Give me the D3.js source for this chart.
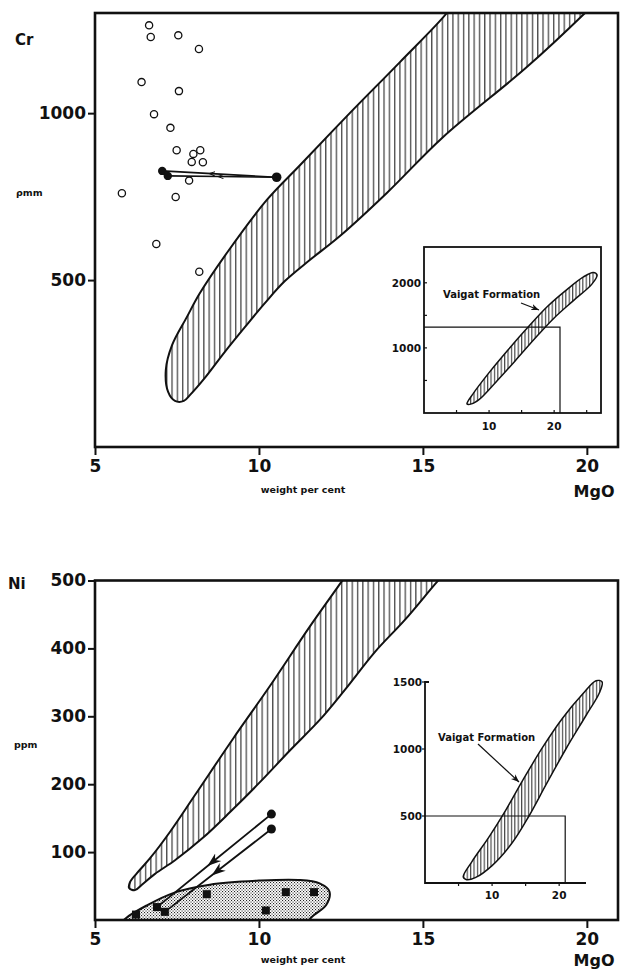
<!DOCTYPE html>
<html>
<head>
<meta charset="utf-8">
<script src="https://cdn.jsdelivr.net/npm/d3@7"></script>
<style>
body { margin: 0; background: #fff; }
svg { display: block; }
text { font-family: "DejaVu Sans", sans-serif; font-weight: bold; fill: #111; }
</style>
</head>
<body>
<script>
// MgO (weight per cent) against Cr and Ni (ppm)
const mgoTicks = [5, 10, 15, 20]
const crTicks = [500, 1000]
const niTicks = [100, 200, 300, 400, 500]

// Cr panel: open circles
const crOpen = [
  [6.65, 1263], [6.70, 1228], [7.54, 1233], [8.17, 1192], [6.42, 1093],
  [7.56, 1066], [6.80, 997], [7.30, 956], [7.49, 889], [8.00, 878],
  [8.21, 889], [7.95, 854], [8.29, 853], [7.87, 798], [5.82, 760],
  [7.46, 749], [6.87, 608], [8.18, 525]
]
// Cr panel: filled points and the two trends
const crFilled = [[7.05, 827], [7.22, 812], [10.54, 808]]
const crTrends = [
  [[10.54, 808], [7.05, 827], 0.57],
  [[10.54, 808], [7.22, 812], 0.52]
]
// Cr panel: hatched field, upper edge down to the tip then lower edge back up
const crField = [
  [15.98, 1339], [15.73, 1300], [14.30, 1153], [12.77, 1000], [11.25, 844],
  [10.24, 740], [9.02, 581], [8.20, 461], [7.80, 389], [7.35, 305], [7.16, 231],
  [7.23, 165], [7.44, 138], [7.71, 138], [7.90, 156], [8.35, 207], [8.96, 285],
  [9.57, 359], [10.18, 431], [10.79, 497], [11.55, 560], [12.47, 632],
  [13.90, 761], [15.61, 928], [18.17, 1138], [19.88, 1294], [20.27, 1333]
]
// Cr inset
const crInsetXTicks = [10, 20]
const crInsetYTicks = [1000, 2000]
const crInsetField = [
  [6.6, 140], [7.5, 290], [10.0, 620], [13.0, 980], [16.0, 1320], [19.0, 1640],
  [22.0, 1900], [24.5, 2090], [26.0, 2160], [26.6, 2120], [25.8, 1980],
  [23.0, 1730], [20.0, 1460], [17.0, 1140], [14.0, 800], [11.0, 470], [8.5, 210], [7.3, 140]
]
const crInsetBox = [20.9, 1320]

// Ni panel
const niFilled = [[10.38, 156], [10.38, 134]]
const niTrends = [
  [[10.38, 156], [6.89, 19], 0.55],
  [[10.38, 134], [7.13, 12], 0.55]
]
const niSquares = [
  [6.25, 8], [6.89, 19], [7.13, 12], [8.41, 38], [10.21, 14], [10.82, 41], [11.68, 41]
]
const niField = [
  [12.74, 514], [12.53, 499], [11.55, 432], [10.34, 345], [9.21, 267], [8.05, 184],
  [7.29, 130], [6.68, 91], [6.28, 69], [6.07, 56], [6.04, 47], [6.22, 44],
  [6.43, 52], [6.83, 68], [7.44, 88], [8.29, 121], [9.12, 159], [10.03, 203],
  [10.95, 250], [11.86, 295], [12.62, 339], [13.54, 395], [14.45, 442],
  [15.43, 498], [15.70, 512]
]
const niStipple = [
  [11.3, -15], [11.6, 4], [12.05, 22], [12.15, 42], [11.85, 54], [11.2, 59],
  [10.0, 58], [8.5, 52], [7.4, 40], [6.6, 22], [5.95, 3], [5.6, -15]
]
// Ni inset
const niInsetXTicks = [10, 20]
const niInsetYTicks = [500, 1000, 1500]
const niInsetField = [
  [5.7, 45], [7.0, 160], [9.5, 340], [12.0, 540], [14.5, 760], [17.5, 1010],
  [20.5, 1230], [23.5, 1410], [25.5, 1510], [26.4, 1500], [26.0, 1420],
  [24.0, 1250], [21.0, 1000], [18.0, 730], [15.5, 500], [13.0, 300], [10.0, 130],
  [7.5, 40], [6.2, 25]
]
const niInsetBox = [20.9, 500]

const W = 620, H = 970
const svg = d3.select('body').append('svg').attr('width', W).attr('height', H)
const defs = svg.append('defs')

const hatch = defs.append('pattern').attr('id', 'hatch')
  .attr('patternUnits', 'userSpaceOnUse').attr('width', 5.3).attr('height', 10)
hatch.append('line').attr('x1', 2.5).attr('x2', 2.5).attr('y1', 0).attr('y2', 10)
  .attr('stroke', '#111').attr('stroke-width', 1)
const hatchFine = defs.append('pattern').attr('id', 'hatchFine')
  .attr('patternUnits', 'userSpaceOnUse').attr('width', 3.4).attr('height', 10)
hatchFine.append('line').attr('x1', 1.5).attr('x2', 1.5).attr('y1', 0).attr('y2', 10)
  .attr('stroke', '#111').attr('stroke-width', 0.9)
const stip = defs.append('pattern').attr('id', 'stip')
  .attr('patternUnits', 'userSpaceOnUse').attr('width', 3).attr('height', 3)
stip.append('rect').attr('x', 0).attr('y', 0).attr('width', 1.1).attr('height', 1.1).attr('fill', '#222')
stip.append('rect').attr('x', 1.5).attr('y', 1.5).attr('width', 1.1).attr('height', 1.1).attr('fill', '#222')

const arrowSmall = defs.append('marker').attr('id', 'arrowSmall')
  .attr('viewBox', '0 0 10 10').attr('refX', 5).attr('refY', 5)
  .attr('markerWidth', 7).attr('markerHeight', 7).attr('markerUnits', 'userSpaceOnUse')
  .attr('orient', 'auto')
arrowSmall.append('path').attr('d', 'M0,2L8,5L0,8').attr('fill', 'none').attr('stroke', '#111').attr('stroke-width', 1.4)
const arrowBig = defs.append('marker').attr('id', 'arrowBig')
  .attr('viewBox', '0 0 10 10').attr('refX', 9).attr('refY', 5)
  .attr('markerWidth', 14).attr('markerHeight', 14).attr('markerUnits', 'userSpaceOnUse')
  .attr('orient', 'auto')
arrowBig.append('path').attr('d', 'M0,1.5L10,5L0,8.5L3,5Z').attr('fill', '#111')
const arrowIn = defs.append('marker').attr('id', 'arrowIn')
  .attr('viewBox', '0 0 10 10').attr('refX', 10).attr('refY', 5)
  .attr('markerWidth', 8).attr('markerHeight', 8).attr('markerUnits', 'userSpaceOnUse')
  .attr('orient', 'auto')
arrowIn.append('path').attr('d', 'M0,1L10,5L0,9L3,5Z').attr('fill', '#111')

const x = d3.scaleLinear().domain([5, 20.95]).range([95, 618])
const fmt = d3.format('d')

function clipFor (y, id) {
  defs.append('clipPath').attr('id', id).append('rect')
    .attr('x', x.range()[0]).attr('y', y.range()[1])
    .attr('width', x.range()[1] - x.range()[0]).attr('height', y.range()[0] - y.range()[1])
}

function mainAxes (g, y, ticks) {
  const xa = g.append('g').attr('transform', `translate(0,${y.range()[0]})`)
    .call(d3.axisBottom(x).tickValues(mgoTicks).tickFormat(fmt).tickSize(8).tickSizeOuter(0).tickPadding(5))
  xa.select('.domain').remove()
  xa.selectAll('line').attr('stroke', '#111').attr('stroke-width', 2)
  xa.selectAll('text').attr('font-size', 17).attr('font-family', '"DejaVu Sans", sans-serif').attr('fill', '#111')
  const ya = g.append('g').attr('transform', `translate(${x.range()[0]},0)`)
    .call(d3.axisLeft(y).tickValues(ticks).tickFormat(fmt).tickSize(7).tickSizeOuter(0).tickPadding(2))
  ya.select('.domain').remove()
  ya.selectAll('line').attr('stroke', '#111').attr('stroke-width', 2)
  ya.selectAll('text').attr('font-size', 17).attr('font-family', '"DejaVu Sans", sans-serif').attr('fill', '#111')
  g.append('rect')
    .attr('x', x.range()[0]).attr('y', y.range()[1])
    .attr('width', x.range()[1] - x.range()[0]).attr('height', y.range()[0] - y.range()[1])
    .attr('fill', 'none').attr('stroke', '#111').attr('stroke-width', 2.6)
}

function insetField (g, xs, ys, pts) {
  g.append('path').datum(pts)
    .attr('d', d3.line().x(d => xs(d[0])).y(d => ys(d[1])).curve(d3.curveCatmullRomClosed.alpha(0.5)))
    .attr('fill', 'url(#hatchFine)').attr('stroke', '#111').attr('stroke-width', 1.5)
}

function trends (g, y, list, width, marker) {
  list.forEach(t => {
    const [a, b, f] = t
    const m = [a[0] + (b[0] - a[0]) * f, a[1] + (b[1] - a[1]) * f]
    g.append('path').datum([a, m, b])
      .attr('d', d3.line().x(d => x(d[0])).y(d => y(d[1])))
      .attr('fill', 'none').attr('stroke', '#111').attr('stroke-width', width)
      .attr('marker-mid', `url(#${marker})`)
  })
}

// ---------- Cr panel ----------
const yCr = d3.scaleLinear().domain([0, 1300]).range([447, 13])
const gCr = svg.append('g')
clipFor(yCr, 'clipCr')
gCr.append('path').datum(crField)
  .attr('d', d3.line().x(d => x(d[0])).y(d => yCr(d[1])).curve(d3.curveCatmullRom.alpha(0.5)))
  .attr('fill', 'url(#hatch)').attr('stroke', '#111').attr('stroke-width', 2)
  .attr('clip-path', 'url(#clipCr)')

// inset
const xCi = d3.scaleLinear().domain([0, 27.2]).range([424, 601])
const yCi = d3.scaleLinear().domain([0, 2550]).range([413, 247])
const gCi = gCr.append('g')
gCi.append('rect').attr('x', xCi(0)).attr('y', yCi(2550))
  .attr('width', xCi(27.2) - xCi(0)).attr('height', yCi(0) - yCi(2550))
  .attr('fill', '#fff').attr('stroke', '#111').attr('stroke-width', 1.8)
insetField(gCi, xCi, yCi, crInsetField)
gCi.append('path')
  .attr('d', `M${xCi(0)},${yCi(crInsetBox[1])}H${xCi(crInsetBox[0])}V${yCi(0)}`)
  .attr('fill', 'none').attr('stroke', '#111').attr('stroke-width', 1.2)
gCi.selectAll('.cxt').data([5, 10, 15, 20, 25]).join('line')
  .attr('x1', d => xCi(d)).attr('x2', d => xCi(d)).attr('y1', yCi(0)).attr('y2', yCi(0) - 3)
  .attr('stroke', '#111').attr('stroke-width', 1.2)
gCi.selectAll('.cyt').data([500, 1000, 1500, 2000]).join('line')
  .attr('x1', xCi(0)).attr('x2', xCi(0) + 3).attr('y1', d => yCi(d)).attr('y2', d => yCi(d))
  .attr('stroke', '#111').attr('stroke-width', 1.2)
gCi.selectAll('.cxl').data(crInsetXTicks).join('text')
  .attr('x', d => xCi(d)).attr('y', yCi(0) + 17).attr('text-anchor', 'middle')
  .attr('font-size', 10.5).text(d => d)
gCi.selectAll('.cyl').data(crInsetYTicks).join('text')
  .attr('x', xCi(0) - 3).attr('y', d => yCi(d) + 4).attr('text-anchor', 'end')
  .attr('font-size', 10.5).text(d => d)
gCi.append('text').attr('x', 443).attr('y', 298).attr('font-size', 10).text('Vaigat Formation')
gCi.append('line').attr('x1', 521).attr('y1', 303).attr('x2', 539).attr('y2', 310)
  .attr('stroke', '#111').attr('stroke-width', 1.2).attr('marker-end', 'url(#arrowIn)')

mainAxes(gCr, yCr, crTicks)

trends(gCr, yCr, crTrends, 1.6, 'arrowSmall')
gCr.selectAll('.open').data(crOpen).join('circle')
  .attr('cx', d => x(d[0])).attr('cy', d => yCr(d[1])).attr('r', 3.6)
  .attr('fill', '#fff').attr('stroke', '#111').attr('stroke-width', 1.3)
gCr.selectAll('.fill').data(crFilled).join('circle')
  .attr('cx', d => x(d[0])).attr('cy', d => yCr(d[1])).attr('r', (d, i) => i === 2 ? 4.8 : 4.2)
  .attr('fill', '#111')

gCr.append('text').attr('x', 15).attr('y', 45).attr('font-size', 15).text('Cr')
gCr.append('text').attr('x', 16).attr('y', 196).attr('font-size', 9.5).attr('font-weight', 'normal').text('ρmm')
gCr.append('text').attr('x', 303).attr('y', 493).attr('text-anchor', 'middle').attr('font-size', 9.5).text('weight per cent')
gCr.append('text').attr('x', 594).attr('y', 497).attr('text-anchor', 'middle').attr('font-size', 16).text('MgO')

// ---------- Ni panel ----------
const yNi = d3.scaleLinear().domain([0, 500]).range([920, 580.5])
const gNi = svg.append('g')
clipFor(yNi, 'clipNi')
gNi.append('path').datum(niField)
  .attr('d', d3.line().x(d => x(d[0])).y(d => yNi(d[1])).curve(d3.curveCatmullRom.alpha(0.5)))
  .attr('fill', 'url(#hatch)').attr('stroke', '#111').attr('stroke-width', 2)
  .attr('clip-path', 'url(#clipNi)')
gNi.append('path').datum(niStipple)
  .attr('d', d3.line().x(d => x(d[0])).y(d => yNi(d[1])).curve(d3.curveCatmullRom.alpha(0.5)))
  .attr('fill', 'url(#stip)').attr('stroke', '#111').attr('stroke-width', 2)
  .attr('clip-path', 'url(#clipNi)')

// inset
const xNi2 = d3.scaleLinear().domain([0, 24]).range([425, 586])
const yNi2 = d3.scaleLinear().domain([0, 1500]).range([883, 682])
const gNi2 = gNi.append('g')
insetField(gNi2, xNi2, yNi2, niInsetField)
gNi2.append('path')
  .attr('d', `M${xNi2(0) + 4},${yNi2(1500)}H${xNi2(0)}V${yNi2(0)}H${xNi2(24)}`)
  .attr('fill', 'none').attr('stroke', '#111').attr('stroke-width', 1.8)
gNi2.append('path')
  .attr('d', `M${xNi2(0)},${yNi2(niInsetBox[1])}H${xNi2(niInsetBox[0])}V${yNi2(0)}`)
  .attr('fill', 'none').attr('stroke', '#111').attr('stroke-width', 1.2)
gNi2.selectAll('.nxt').data([5, 10, 15, 20]).join('line')
  .attr('x1', d => xNi2(d)).attr('x2', d => xNi2(d)).attr('y1', yNi2(0)).attr('y2', yNi2(0) + 3)
  .attr('stroke', '#111').attr('stroke-width', 1.2)
gNi2.selectAll('.nyt').data(niInsetYTicks).join('line')
  .attr('x1', xNi2(0)).attr('x2', xNi2(0) - 3).attr('y1', d => yNi2(d)).attr('y2', d => yNi2(d))
  .attr('stroke', '#111').attr('stroke-width', 1.2)
gNi2.selectAll('.nxl').data(niInsetXTicks).join('text')
  .attr('x', d => xNi2(d)).attr('y', yNi2(0) + 16).attr('text-anchor', 'middle')
  .attr('font-size', 10.5).text(d => d)
gNi2.selectAll('.nyl').data(niInsetYTicks).join('text')
  .attr('x', xNi2(0) - 3).attr('y', d => yNi2(d) + 4).attr('text-anchor', 'end')
  .attr('font-size', 10.5).text(d => d)
gNi2.append('text').attr('x', 438).attr('y', 741).attr('font-size', 10).text('Vaigat Formation')
gNi2.append('line').attr('x1', 478).attr('y1', 744).attr('x2', 519).attr('y2', 782)
  .attr('stroke', '#111').attr('stroke-width', 1.2).attr('marker-end', 'url(#arrowIn)')

mainAxes(gNi, yNi, niTicks)

trends(gNi, yNi, niTrends, 1.8, 'arrowBig')
gNi.selectAll('.sq').data(niSquares).join('rect')
  .attr('x', d => x(d[0]) - 4).attr('y', d => yNi(d[1]) - 4)
  .attr('width', 8).attr('height', 8).attr('fill', '#111')
gNi.selectAll('.nf').data(niFilled).join('circle')
  .attr('cx', d => x(d[0])).attr('cy', d => yNi(d[1])).attr('r', 4.5)
  .attr('fill', '#111')

gNi.append('text').attr('x', 8).attr('y', 589).attr('font-size', 15).text('Ni')
gNi.append('text').attr('x', 14).attr('y', 748).attr('font-size', 9.5).attr('font-weight', 'normal').text('ppm')
gNi.append('text').attr('x', 303).attr('y', 963).attr('text-anchor', 'middle').attr('font-size', 9.5).text('weight per cent')
gNi.append('text').attr('x', 594).attr('y', 966).attr('text-anchor', 'middle').attr('font-size', 16).text('MgO')
</script>
</body>
</html>
